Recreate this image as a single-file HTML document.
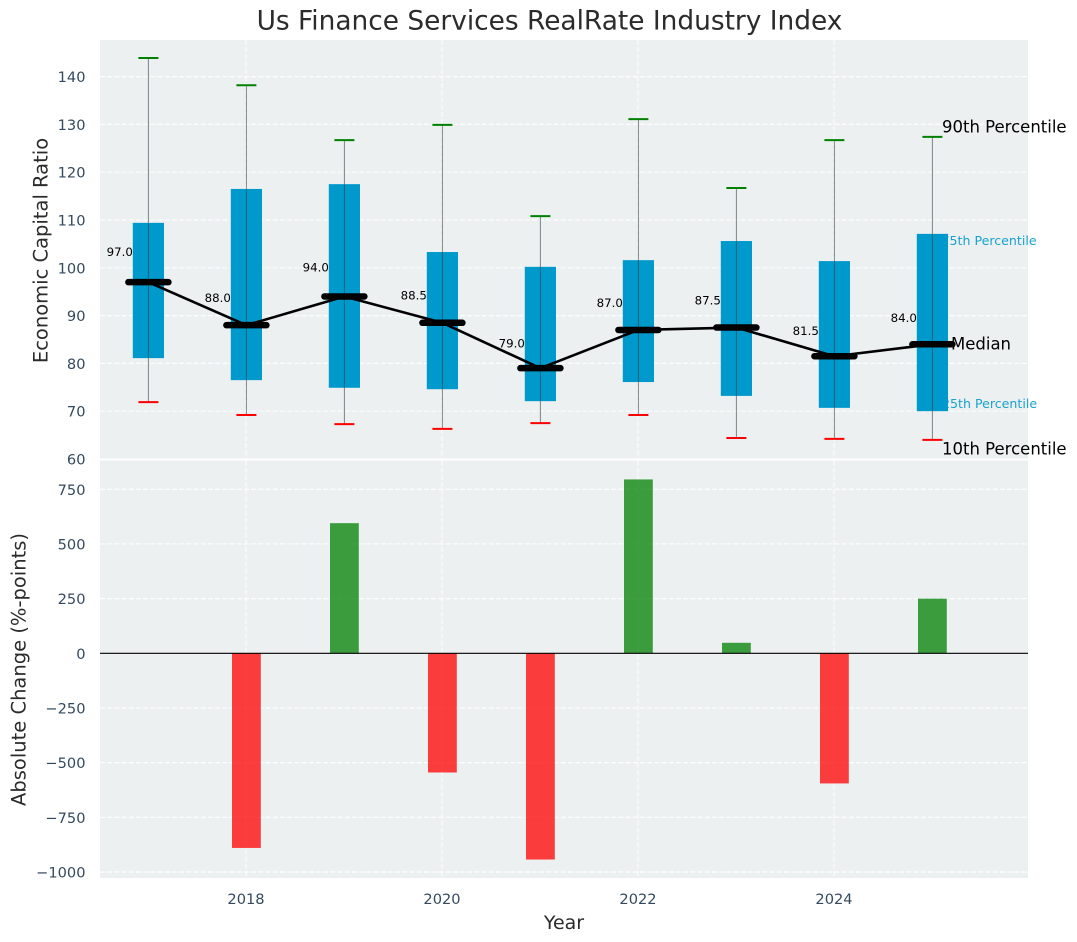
<!DOCTYPE html>
<html>
<head>
<meta charset="utf-8">
<title>Us Finance Services RealRate Industry Index</title>
<style>
html,body{margin:0;padding:0;background:#fff;}
body{width:1077px;height:942px;overflow:hidden;}
svg{display:block;font-family:"DejaVu Sans","Liberation Sans",sans-serif;}
</style>
</head>
<body>
<svg id="chart" xmlns="http://www.w3.org/2000/svg" width="1077" height="942" viewBox="0 0 1077 942"></svg>
<script>
const years = [2017, 2018, 2019, 2020, 2021, 2022, 2023, 2024, 2025];
const p10 = [71.9, 69.2, 67.3, 66.3, 67.5, 69.2, 64.4, 64.2, 64.0];
const p25 = [81.1, 76.5, 74.9, 74.6, 72.1, 76.1, 73.2, 70.7, 70.0];
const medians = [97.0, 88.0, 94.0, 88.5, 79.0, 87.0, 87.5, 81.5, 84.0];
const p75 = [109.4, 116.5, 117.5, 103.3, 100.2, 101.6, 105.6, 101.4, 107.1];
const p90 = [143.9, 138.2, 126.7, 129.9, 110.8, 131.1, 116.7, 126.7, 127.4];
const changes = [null, -890, 595, -545, -943, 795, 48, -595, 250];
const xTicks = [2018, 2020, 2022, 2024];
const topYTicks = [60, 70, 80, 90, 100, 110, 120, 130, 140];
const bottomYTicks = [-1000, -750, -500, -250, 0, 250, 500, 750];

const svg = document.getElementById('chart');
const NS = 'http://www.w3.org/2000/svg';
const LEFT = 100, RIGHT = 1028, TOP1 = 40, BOT1 = 458.5, TOP2 = 460.5, BOT2 = 878;

function xScale(v) { return 148.4 + (v - 2017) * 98; }
function yTop(v) { return 459 - (v - 60) * 4.78; }
function yBottom(v) { return 653.3 - v * 0.2187; }

function add(tag, attrs, text) {
  const el = document.createElementNS(NS, tag);
  for (const k in attrs) el.setAttribute(k, attrs[k]);
  if (text !== undefined) el.textContent = text;
  svg.appendChild(el);
  return el;
}
function label(str, x, y, size, fill, anchor, rotate) {
  const a = { x: x, y: y, 'font-size': size, fill: fill, 'text-anchor': anchor || 'start', 'dominant-baseline': 'central' };
  if (rotate) a.transform = 'rotate(' + rotate + ' ' + x + ' ' + y + ')';
  return add('text', a, str);
}
function fmtTick(v) { return v < 0 ? '\u2212' + Math.abs(v) : String(v); }

let el;

el = label('Us Finance Services RealRate Industry Index', 549.5, 21, 26.4, '#2b2b2b', 'middle');



el = add('rect', { x: LEFT, y: TOP1, width: RIGHT - LEFT, height: BOT1 - TOP1, fill: '#ecf0f1' });



el = add('rect', { x: LEFT, y: TOP2, width: RIGHT - LEFT, height: BOT2 - TOP2, fill: '#ecf0f1' });



const gridStyle = { stroke: '#ffffff', 'stroke-width': 1.2, 'stroke-dasharray': '5 2.2', 'stroke-opacity': 0.9 };

xTicks.forEach(function (t) {
  const gx = 148 + (t - 2017) * 98;
  el = add('line', Object.assign({ x1: gx, x2: gx, y1: TOP1, y2: BOT1 }, gridStyle));
  
  
  el = add('line', Object.assign({ x1: gx, x2: gx, y1: TOP2, y2: BOT2 }, gridStyle));
  
  
  el = label(String(t), gx, 899.5, 14.6, '#34495e', 'middle');
  
  
});

topYTicks.forEach(function (t) {
  if (t > 60) {
    el = add('line', Object.assign({ x1: LEFT, x2: RIGHT, y1: yTop(t), y2: yTop(t) }, gridStyle));
    
    
  }
  el = label(fmtTick(t), 85.5, yTop(t) + 1, 14.6, '#34495e', 'end');
  
  
});

bottomYTicks.forEach(function (t) {
  el = add('line', Object.assign({ x1: LEFT, x2: RIGHT, y1: yBottom(t), y2: yBottom(t) }, gridStyle));
  
  
  el = label(fmtTick(t), 85.5, yBottom(t) + 1, 14.6, '#34495e', 'end');
  
  
});

const lastIdx = years.length - 1;
const lastX = 148 + (years[lastIdx] - 2017) * 98;

el = label('90th Percentile', lastX + 10, yTop(p90[lastIdx]) - 10, 16.5, '#000000');



el = label('75th Percentile', lastX + 9.5, yTop(p75[lastIdx]) + 6.5, 12.6, '#0099cc');


el.setAttribute('fill-opacity', '0.9');

el = label('25th Percentile', lastX + 10, yTop(p25[lastIdx]) - 7.5, 12.6, '#0099cc');


el.setAttribute('fill-opacity', '0.9');

el = label('10th Percentile', lastX + 10, yTop(p10[lastIdx]) + 9, 16.5, '#000000');



years.forEach(function (yr, i) {
  const x = xScale(yr);
  el = add('rect', { x: x - 15.6, y: yTop(p75[i]), width: 31.2, height: yTop(p25[i]) - yTop(p75[i]), fill: '#0099cc' });
  
  

  el = add('line', { x1: x, x2: x, y1: yTop(p90[i]), y2: yTop(p10[i]), stroke: '#34393c', 'stroke-opacity': 0.6, 'stroke-width': 1 });
  
  

  el = add('line', { x1: x - 10, x2: x + 10, y1: yTop(p90[i]), y2: yTop(p90[i]), stroke: '#008000', 'stroke-width': 2 });
  
  

  el = add('line', { x1: x - 10, x2: x + 10, y1: yTop(p10[i]), y2: yTop(p10[i]), stroke: '#ff0000', 'stroke-width': 2 });
  
  

  el = label(medians[i].toFixed(1), x - 15.5, yTop(medians[i] * 1.065), 11.8, '#000000', 'end');
  
  
});

el = add('polyline', {
  points: years.map(function (yr, i) { return xScale(yr) + ',' + yTop(medians[i]); }).join(' '),
  fill: 'none', stroke: '#000000', 'stroke-width': 2.6, 'stroke-linejoin': 'round'
});



years.forEach(function (yr, i) {
  const x = xScale(yr);
  el = add('line', { x1: x - 20, x2: x + 20, y1: yTop(medians[i]), y2: yTop(medians[i]), stroke: '#000000', 'stroke-width': 6.5, 'stroke-linecap': 'round' });
  
  
});

el = label('Median', lastX + 19, yTop(medians[lastIdx]) - 0.5, 16.5, '#000000');



years.forEach(function (yr, i) {
  if (changes[i] === null) return;
  const y0 = yBottom(0), y1 = yBottom(changes[i]);
  el = add('rect', {
    x: xScale(yr) - 14.4, y: Math.min(y0, y1), width: 28.8, height: Math.abs(y1 - y0),
    fill: changes[i] >= 0 ? '#008000' : '#ff0000', 'fill-opacity': 0.75
  });
  
  
});

el = add('line', { x1: LEFT, x2: RIGHT, y1: yBottom(0), y2: yBottom(0), stroke: '#000000', 'stroke-width': 1.2 });



el = label('Economic Capital Ratio', 41, 250.5, 19.5, '#2b2b2b', 'middle', -90);



el = label('Absolute Change (%-points)', 19, 669.5, 19.5, '#2b2b2b', 'middle', -90);



el = label('Year', 564, 923, 19, '#2b2b2b', 'middle');


</script>
</body>
</html>
